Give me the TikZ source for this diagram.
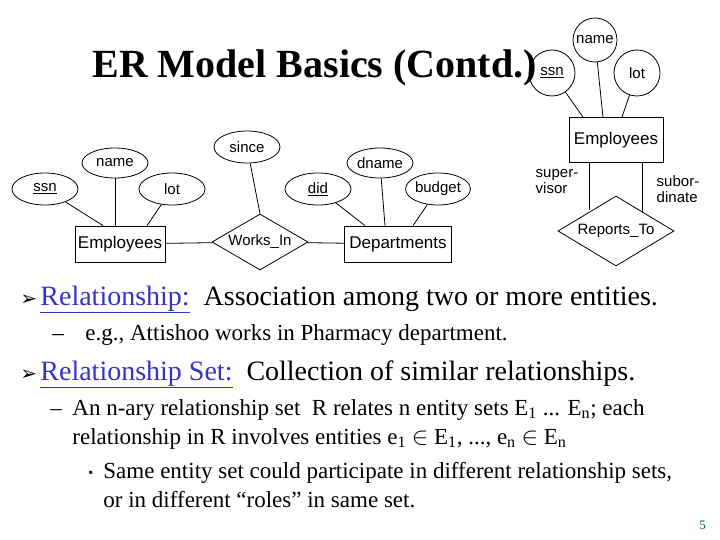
\documentclass[tikz,border=0pt]{standalone}
\usepackage{fontspec}
\setmainfont{Liberation Serif}
\setsansfont{Liberation Sans}
\newfontfamily\symfont{DejaVu Sans}
\usetikzlibrary{shapes.geometric,positioning}
\definecolor{linkblue}{RGB}{51,51,204}

\begin{document}
\begin{tikzpicture}[x=1pt,y=-1pt,
		attr/.style={draw,thick,ellipse,inner sep=0pt,font=\sffamily\fontsize{15}{17}\selectfont},
		circattr/.style={draw,thick,circle,inner sep=0pt,font=\sffamily\fontsize{15}{17}\selectfont},
		entity/.style={draw,thick,rectangle,inner sep=0pt,font=\sffamily\fontsize{17}{19}\selectfont},
		rel/.style={draw,thick,diamond,aspect=1.7,inner sep=0pt,font=\sffamily\fontsize{15}{17}\selectfont},
		role/.style={font=\sffamily\fontsize{15}{16}\selectfont,align=left},
		txt/.style={anchor=base west,inner sep=0pt},
		big/.style={txt,font=\fontsize{28}{30}\selectfont},
		small/.style={txt,font=\fontsize{23}{26}\selectfont},
		every path/.style={thick}
		]
		\useasboundingbox (0,0) rectangle (720,540);
		
		% Title
		\node[txt,font=\bfseries\fontsize{40}{44}\selectfont] (title) at (92,78) {ER Model Basics (Contd.)};
		
		% Works_In diagram
		\node[entity,minimum width=90,minimum height=36] (emp) at (120,244) {Employees};
		\node[attr,minimum width=66,minimum height=32] (essn) at (45,189) {\underline{ssn}};
		\node[attr,minimum width=66,minimum height=30] (ename) at (115,163) {name};
		\node[attr,minimum width=66,minimum height=32] (elot) at (172,189) {lot};
		\node[rel,minimum width=96,minimum height=56] (works) at (260,242) {Works\_In};
		\node[attr,minimum width=66,minimum height=32] (since) at (247,147) {since};
		\node[entity,minimum width=107,minimum height=36] (dept) at (398,244) {Departments};
		\node[attr,minimum width=66,minimum height=32] (did) at (318,189) {\underline{did}};
		\node[attr,minimum width=66,minimum height=30] (dname) at (380,163) {dname};
		\node[attr,minimum width=56,minimum height=32] (budget) at (438,189) {budget};
		
		\draw (essn) -- ([xshift=-17]emp.north);
		\draw (ename) -- (emp.north -| ename);
		\draw (elot) -- ([xshift=27]emp.north);
		\draw (since) -- (works.north);
		\draw (emp) -- (works);
		\draw (works) -- (dept);
		\draw (did) -- ([xshift=-33]dept.north);
		\draw (dname) -- ([xshift=-13]dept.north);
		\draw (budget) -- ([xshift=15]dept.north);
		
		% Reports_To diagram
		\node[entity,minimum width=94,minimum height=45] (emp2) at (616,140) {Employees};
		\node[circattr,minimum size=46] (ssn2) at (552,73) {\underline{ssn}};
		\node[circattr,minimum size=44] (name2) at (595,40) {name};
		\node[circattr,minimum size=46] (lot2) at (637,73) {lot};
		\node[rel,minimum width=116,minimum height=70] (reports) at (616,231) {Reports\_To};
		\coordinate (sup) at (589,210);
		\coordinate (sub) at (642,212);
		
		\draw (ssn2) -- ([xshift=-33]emp2.north);
		\draw (name2) -- ([xshift=-13]emp2.north);
		\draw (lot2) -- ([xshift=6]emp2.north);
		\draw (emp2.south -| sup) -- (sup);
		\draw (emp2.south -| sub) -- (sub);
		\node[role] (suplbl) at (557,182) {super-\\visor};
		\node[role] (sublbl) at (678,189) {subor-\\dinate};
		
		% Bullet text
		\node[txt,font=\symfont\fontsize{20}{22}\selectfont] (b1) at (20,305) {➢};
		\node[big] (t1) at (40,305) {\textcolor{linkblue}{\underline{Relationship:}}\ \ Association among two or more entities.};
		\node[small] (d1) at (52,340) {–};
		\node[small] (t1a) at (85,340) {e.g., Attishoo works in Pharmacy department.};
		\node[txt,font=\symfont\fontsize{20}{22}\selectfont] (b2) at (20,380) {➢};
		\node[big] (t2) at (40,380) {\textcolor{linkblue}{\underline{Relationship Set:}}\ \ Collection of similar relationships.};
		\node[small] (d2) at (50,415) {–};
		\node[small] (t3) at (72,415) {An n-ary relationship set\ \ R relates n entity sets E\textsubscript{1} ... E\textsubscript{n}; each};
		\node[small] (t3a) at (72,444) {relationship in R involves entities e\textsubscript{1} $\in$ E\textsubscript{1}, ..., e\textsubscript{n} $\in$ E\textsubscript{n}};
		\node[txt,font=\fontsize{14}{16}\selectfont] (d3) at (88,477) {•};
		\node[small] (t4) at (103,478) {Same entity set could participate in different relationship sets,};
		\node[small] (t4a) at (103,507) {or in different “roles” in same set.};
		\node[txt,font=\fontsize{13}{14}\selectfont,text=teal!70!black] (page) at (699,529) {5};
		
	\end{tikzpicture}
\end{document}
